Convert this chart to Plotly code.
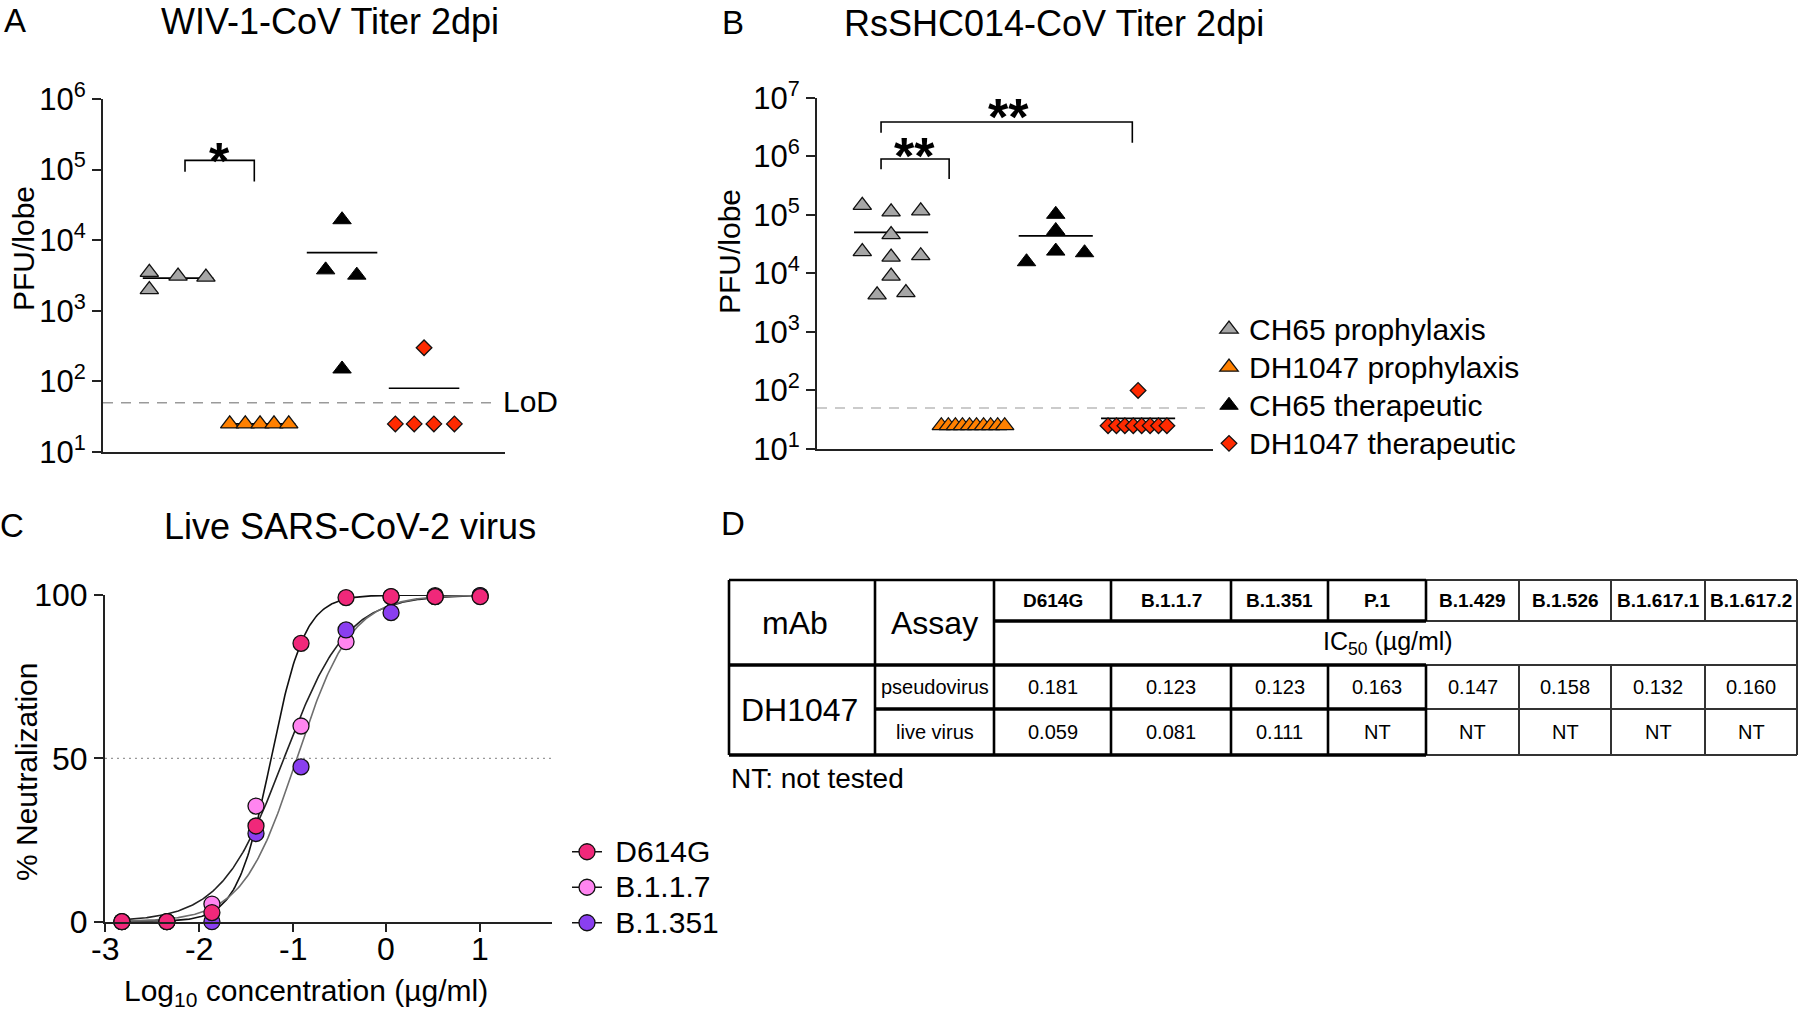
import numpy as np
import plotly.graph_objects as go

FONT = "Liberation Sans, Arial, sans-serif"
W, H = 1800, 1012

# ---------------- data: panel A (WIV-1-CoV, PFU/lobe) ----------------
group_names = ["CH65 prophylaxis", "DH1047 prophylaxis", "CH65 therapeutic", "DH1047 therapeutic"]
A_ch65_prophylaxis = [3500, 2000, 3100, 3000]
A_dh1047_prophylaxis = [25, 25, 25, 25, 25]
A_ch65_therapeutic = [19500, 3800, 3200, 150]
A_dh1047_therapeutic = [300, 25, 25, 25, 25]

# ---------------- data: panel B (RsSHC014-CoV, PFU/lobe) ----------------
B_ch65_prophylaxis = [145000, 112000, 117000, 46000, 23500, 19000, 20000, 9000, 4300, 4700]
B_dh1047_prophylaxis = [25, 25, 25, 25, 25, 25, 25, 25, 25, 25]
B_ch65_therapeutic = [102000, 54000, 24000, 22500, 15800]
B_dh1047_therapeutic = [100, 25, 25, 25, 25, 25, 25, 25, 25]
LOD = 50

# ---------------- data: panel C (live virus neutralization) ----------------
log_conc = [-2.82, -2.34, -1.86, -1.39, -0.91, -0.43, 0.05, 0.52, 1.0]
neut_D614G = [0, 0, 2.8, 29.3, 85.2, 99.2, 99.5, 99.5, 99.5]
neut_B117 = [0, 0, 5.4, 35.4, 59.9, 85.7, 99.5, 99.8, 99.8]
neut_B1351 = [0, 0, 0, 27.0, 47.4, 89.3, 94.6, 99.5, 99.8]
hill_slope = [2.4, 1.3, 1.5]
C_xticks = [-3, -2, -1, 0, 1]
C_yticks = [0, 50, 100]

# ---------------- data: panel D (IC50 table) ----------------
variants = ["D614G", "B.1.1.7", "B.1.351", "P.1", "B.1.429", "B.1.526", "B.1.617.1", "B.1.617.2"]
ic50_pseudovirus = [0.181, 0.123, 0.123, 0.163, 0.147, 0.158, 0.132, 0.160]
ic50_live = [0.059, 0.081, 0.111, None, None, None, None, None]
assays = ["pseudovirus", "live virus"]
mab = "DH1047"

# ---------------- helpers ----------------
def px_x(px):
    return px / W


def px_y(py):
    return 1 - py / H


fig = go.Figure()
annotations = []
shapes = []


def txt(text, x, y, size, xanchor="center", yanchor="middle", angle=0, xref="paper", yref="paper", color="#000"):
    annotations.append(dict(text=text, x=x, y=y, xref=xref, yref=yref, showarrow=False,
                            xanchor=xanchor, yanchor=yanchor, textangle=angle,
                            font=dict(family=FONT, size=size, color=color)))


def big(label, size=30, lead=""):
    return '<span style="font-size:%dpx">%s%s</span>' % (size, lead, label)


# marker styles of the four groups
styles = [
    dict(symbol="triangle-up", color="#A6A6A6", size=16, line=dict(color="#111", width=1.3)),
    dict(symbol="triangle-up", color="#FF8000", size=16, line=dict(color="#111", width=1.3)),
    dict(symbol="triangle-up", color="#000000", size=16, line=dict(color="#000", width=1.0)),
    dict(symbol="diamond", color="#FF2A00", size=12, line=dict(color="#111", width=1.3)),
]

# horizontal spreading of points inside each group (layout only)
A_offsets = [[-0.35, -0.35, 0.0, 0.34],
             [-0.37, -0.18, 0.0, 0.17, 0.35],
             [0.0, -0.2, 0.18, 0.0],
             [0.0, -0.35, -0.12, 0.12, 0.37]]
B_offsets = [[-0.35, 0.0, 0.36, 0.0, -0.35, 0.0, 0.36, 0.0, -0.17, 0.18],
             list(np.linspace(-0.39, 0.38, 10)),
             [0.0, 0.0, 0.0, 0.35, -0.355],
             [0.0] + list(np.linspace(-0.365, 0.35, 8))]


def dot_panel(groups, offsets, xa, ya, legend, halfw):
    for gi, vals in enumerate(groups):
        center = gi + 1
        m = float(np.mean(vals))
        fig.add_trace(go.Scatter(x=[center - halfw, center + halfw], y=[m, m], mode="lines",
                                 line=dict(color="#000", width=1.6), xaxis=xa, yaxis=ya,
                                 showlegend=False, hoverinfo="skip"))
    for gi, vals in enumerate(groups):
        center = gi + 1
        xs = [center + o for o in offsets[gi]]
        fig.add_trace(go.Scatter(x=xs, y=vals, mode="markers", marker=styles[gi],
                                 name=big(group_names[gi], 30), xaxis=xa, yaxis=ya,
                                 showlegend=legend, legend="legend", cliponaxis=False))


A_groups = [A_ch65_prophylaxis, A_dh1047_prophylaxis, A_ch65_therapeutic, A_dh1047_therapeutic]
B_groups = [B_ch65_prophylaxis, B_dh1047_prophylaxis, B_ch65_therapeutic, B_dh1047_therapeutic]

A_xrange = [0.085, 4.987]
B_xrange = [0.10, 4.91]

# LoD dashed lines
fig.add_trace(go.Scatter(x=[A_xrange[0], 4.90], y=[LOD, LOD], mode="lines",
                         line=dict(color="#9A9A9A", width=1.5, dash="10px,8px"),
                         xaxis="x", yaxis="y", showlegend=False, hoverinfo="skip"))
fig.add_trace(go.Scatter(x=[B_xrange[0], B_xrange[1]], y=[LOD, LOD], mode="lines",
                         line=dict(color="#BBBBBB", width=1.5, dash="10px,8px"),
                         xaxis="x2", yaxis="y2", showlegend=False, hoverinfo="skip"))

dot_panel(A_groups, A_offsets, "x", "y", False, 0.43)
dot_panel(B_groups, B_offsets, "x2", "y2", True, 0.45)


# significance brackets: (x_left, x_right, log_top, log_left_end, log_right_end)
def bracket(xa, ya, x1, x2, top, l_end, r_end):
    fig.add_trace(go.Scatter(x=[x1, x1, x2, x2], y=[10 ** l_end, 10 ** top, 10 ** top, 10 ** r_end],
                             mode="lines", line=dict(color="#000", width=1.6), xaxis=xa, yaxis=ya,
                             showlegend=False, hoverinfo="skip", cliponaxis=False))


bracket("x", "y", 1.085, 1.93, 5.13, 4.97, 4.83)
bracket("x2", "y2", 0.878, 1.705, 5.953, 5.78, 5.61)
bracket("x2", "y2", 0.878, 3.93, 6.585, 6.40, 6.23)
txt("<b>*</b>", 1.51, 5.12, 52, xref="x", yref="y")
txt("<b>**</b>", 1.28, 6.0, 52, xref="x2", yref="y2")
txt("<b>**</b>", 2.43, 6.67, 52, xref="x2", yref="y2")

# ---------------- panel C ----------------
c_series = [("D614G", neut_D614G, "#F0287A", "#111111", 1),
            ("B.1.1.7", neut_B117, "#FF85F0", "#222222", 2),
            ("B.1.351", neut_B1351, "#8A3FF0", "#6E6E6E", 3)]
xfit = np.linspace(min(log_conc), max(log_conc), 300)
for (name, vals, col, ccol, rank), ic, h in zip(c_series, ic50_live[:3], hill_slope):
    yfit = 100.0 / (1.0 + 10 ** ((np.log10(ic) - xfit) * h))
    fig.add_trace(go.Scatter(x=xfit, y=yfit, mode="lines", line=dict(color=ccol, width=1.6),
                             xaxis="x3", yaxis="y3", showlegend=False, hoverinfo="skip"))

fig.add_trace(go.Scatter(x=[-3, 1.766], y=[50, 50], mode="lines",
                         line=dict(color="#999999", width=1.3, dash="2px,4px"),
                         xaxis="x3", yaxis="y3", showlegend=False, hoverinfo="skip"))

draw_order = [1, 2, 0]
for idx in draw_order:
    name, vals, col, ccol, rank = c_series[idx]
    xs, ys = [], []
    for xv, yv in zip(log_conc, vals):
        xs += [xv, None]
        ys += [yv, None]
    fig.add_trace(go.Scatter(x=xs, y=ys, mode="lines+markers", connectgaps=False,
                             name=big(name, 30, "&nbsp;"),
                             marker=dict(size=16, color=col, line=dict(color="#111", width=1.3)),
                             line=dict(color="#111", width=1.5),
                             xaxis="x3", yaxis="y3", legend="legend2", legendrank=rank,
                             cliponaxis=False))

# ---------------- axes ----------------
def axis_style(fs):
    return dict(showgrid=False, zeroline=False, showline=True, linewidth=2, linecolor="#222",
                tickfont=dict(family=FONT, size=fs, color="#000"), ticklen=9, tickwidth=2,
                tickcolor="#222", automargin=False)


no_tick = {k: v for k, v in axis_style(30).items() if k not in ("ticklen", "tickwidth")}

fig.update_layout(
    xaxis=dict(domain=[px_x(103), px_x(505)], range=A_xrange, showticklabels=False, ticks="",
               anchor="y", **no_tick),
    yaxis=dict(domain=[px_y(452), px_y(99)], type="log", range=[1, 6],
               tickvals=[10 ** k for k in range(1, 7)],
               ticktext=["10<sup>%d</sup>" % k for k in range(1, 7)], ticks="outside", anchor="x",
               **axis_style(31)),
    xaxis2=dict(domain=[px_x(817), px_x(1213)], range=B_xrange, showticklabels=False, ticks="",
                anchor="y2", **no_tick),
    yaxis2=dict(domain=[px_y(449), px_y(97.7)], type="log", range=[1, 7],
                tickvals=[10 ** k for k in range(1, 8)],
                ticktext=["10<sup>%d</sup>" % k for k in range(1, 8)], ticks="outside", anchor="x2",
                **axis_style(31)),
    xaxis3=dict(domain=[px_x(105), px_x(552)], range=[-3, 1.766], tickvals=C_xticks,
                showticklabels=False, ticks="outside", anchor="y3",
                **{**axis_style(32), "ticklen": 8}),
    yaxis3=dict(domain=[px_y(921.7), px_y(595)], range=[0, 100], tickvals=C_yticks,
                ticks="outside", anchor="x3", **axis_style(32)),
)
# x tick labels of panel C placed right under the ticks
for v in C_xticks:
    txt("%d" % v, v, px_y(949), 32, xref="x3")

# ---------------- texts ----------------
for lab, x, y in [("A", 15, 21), ("B", 733, 23), ("C", 12, 525), ("D", 733, 523)]:
    txt(lab, px_x(x), px_y(y), 33)
txt("WIV-1-CoV Titer 2dpi", px_x(330), px_y(22), 36)
txt("RsSHC014-CoV Titer 2dpi", px_x(1054), px_y(24), 36)
txt("Live SARS-CoV-2 virus", px_x(350), px_y(526), 36)
txt("PFU/lobe", px_x(23), px_y(249), 30, angle=-90)
txt("PFU/lobe", px_x(729), px_y(252), 30, angle=-90)
txt("% Neutralization", px_x(26), px_y(772), 30, angle=-90)
txt("Log<sub>10</sub> concentration (µg/ml)", px_x(306), px_y(992), 30)
txt("LoD", px_x(501), px_y(402), 30, xanchor="left")

# ---------------- panel D table ----------------
cols = [729, 875, 994, 1111, 1231, 1328, 1426, 1519, 1611, 1705, 1797]
rows = [580, 621, 665, 709, 755]
split = 6
thick = dict(color="#000", width=3.5)
medium = dict(color="#000", width=2.6)
thin = dict(color="#333", width=2)


def seg(x0, y0, x1, y1, line):
    shapes.append(dict(type="line", xref="paper", yref="paper", x0=px_x(x0), y0=px_y(y0),
                       x1=px_x(x1), y1=px_y(y1), line=line))


h_starts = [cols[0], cols[2], cols[0], cols[1], cols[0]]
for ri, xs0 in enumerate(h_starts):
    seg(xs0, rows[ri], cols[split], rows[ri], medium if ri == 0 else thick)
    seg(cols[split], rows[ri], cols[-1], rows[ri], thin)
for ci, xc in enumerate(cols):
    ln = medium if ci <= split else thin
    if ci <= 2 or ci == len(cols) - 1:
        seg(xc, rows[0], xc, rows[4], ln)
    else:
        seg(xc, rows[0], xc, rows[1], ln)
        seg(xc, rows[2], xc, rows[4], ln)

colc = [(cols[i] + cols[i + 1]) / 2 for i in range(len(cols) - 1)]
rowc = [(rows[i] + rows[i + 1]) / 2 for i in range(len(rows) - 1)]
txt("mAb", px_x(colc[0] - 7), px_y((rows[0] + rows[2]) / 2), 32)
txt("Assay", px_x(colc[1]), px_y((rows[0] + rows[2]) / 2), 32)
for i, v in enumerate(variants):
    txt("<b>%s</b>" % v, px_x(colc[i + 2]), px_y(rowc[0]), 19)
txt("IC<sub>50</sub> (µg/ml)", px_x((cols[2] + cols[-1]) / 2 - 8), px_y(rowc[1]), 25)
txt(mab, px_x(colc[0] - 3), px_y((rows[2] + rows[4]) / 2), 32)
for ai, a in enumerate(assays):
    txt(a, px_x(colc[1]), px_y(rowc[2 + ai]), 20)
for i in range(len(variants)):
    for ai, series in enumerate([ic50_pseudovirus, ic50_live]):
        v = series[i]
        txt("NT" if v is None else "%.3f" % v, px_x(colc[i + 2]), px_y(rowc[2 + ai]), 20)
txt("NT: not tested", px_x(729), px_y(778), 28, xanchor="left")

fig.update_layout(
    width=W, height=H, margin=dict(l=0, r=0, t=0, b=0, autoexpand=False),
    paper_bgcolor="white", plot_bgcolor="white",
    font=dict(family=FONT, color="#000"),
    annotations=annotations, shapes=shapes, hovermode=False,
    legend=dict(x=px_x(1209), y=px_y(305), xanchor="left", yanchor="top",
                font=dict(family=FONT, size=27), bgcolor="rgba(0,0,0,0)", itemsizing="trace",
                traceorder="normal"),
    legend2=dict(x=px_x(567), y=px_y(829), xanchor="left", yanchor="top",
                 font=dict(family=FONT, size=25), bgcolor="rgba(0,0,0,0)", itemsizing="trace",
                 traceorder="normal"),
)

fig.write_html("out.html", config={"displayModeBar": False},
               post_script="document.body.style.margin='0px';")
